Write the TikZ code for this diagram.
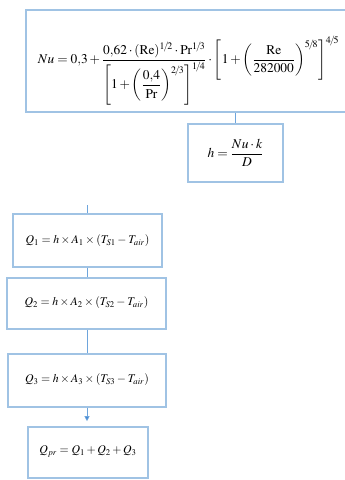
\documentclass[tikz,border=0pt]{standalone}
\usepackage{amsmath}
\usepackage{mathptmx}
\usetikzlibrary{arrows.meta}
\definecolor{boxc}{RGB}{160,195,228}
\definecolor{linec}{RGB}{110,165,220}
\definecolor{arrc}{RGB}{60,130,210}
\tikzset{
  eqbox/.style={draw=boxc, line width=1.6pt, inner sep=0pt, align=center},
  conn/.style={draw=linec, line width=0.8pt},
}
\newcommand{\sfr}[2]{{#1}\!/\!{#2}}
\begin{document}
\begin{tikzpicture}[x=1pt,y=-1pt]
\useasboundingbox (0,0) rectangle (345,480);
\node[eqbox, minimum width=334pt, minimum height=102pt] (nu) at (193,61) {};
\node[inner sep=0pt] (nutext) at (188.5,71)
 {\fontsize{13.4}{15}\selectfont $\displaystyle Nu=0{,}3+\frac{0{,}62\cdot(\mathrm{Re})^{\sfr{1}{2}}\cdot\mathrm{Pr}^{\sfr{1}{3}}}{\left[1+\left(\dfrac{0{,}4}{\mathrm{Pr}}\right)^{\sfr{2}{3}}\right]^{\sfr{1}{4}}}\cdot\left[1+\left(\frac{\mathrm{Re}}{282000}\right)^{\sfr{5}{8}}\right]^{\sfr{4}{5}}$};
\node[eqbox, minimum width=95pt, minimum height=58pt] (k) at (235.5,153)
 {\fontsize{13.5}{15}\selectfont $\displaystyle h=\frac{Nu\cdot k}{D}$};
\node[eqbox, minimum width=149pt, minimum height=53pt] (q1) at (87.5,240.5)
 {\fontsize{11.8}{13}\selectfont\raisebox{3pt}{$Q_1=h\times A_1\times(T_{S1}-T_{air})$}};
\node[eqbox, minimum width=159pt, minimum height=51pt] (q2) at (86.5,303.5)
 {\fontsize{11.8}{13}\selectfont\raisebox{4pt}{$Q_2=h\times A_2\times(T_{S2}-T_{air})$}};
\node[eqbox, minimum width=158pt, minimum height=53pt] (q3) at (87,380.5)
 {\fontsize{11.8}{13}\selectfont\raisebox{4pt}{$Q_3=h\times A_3\times(T_{S3}-T_{air})$}};
\node[eqbox, minimum width=120pt, minimum height=51pt] (qp) at (88,452.5)
 {\fontsize{11.8}{13}\selectfont\raisebox{5pt}{$Q_{pr}=Q_1+Q_2+Q_3$}};
\coordinate (in) at (87,205);
\draw[conn] (nu.south -| k.north) -- (k.north);
\draw[conn] (in) -- (in |- q1.north);
\draw[conn] (in |- q1.south) -- (in |- q2.north);
\draw[conn] (in |- q2.south) -- (in |- q3.north);
\draw[conn, -{Triangle[length=5pt,width=5pt,fill=arrc]}, shorten >=5pt] (in |- q3.south) -- (in |- qp.north);
\end{tikzpicture}
\end{document}
